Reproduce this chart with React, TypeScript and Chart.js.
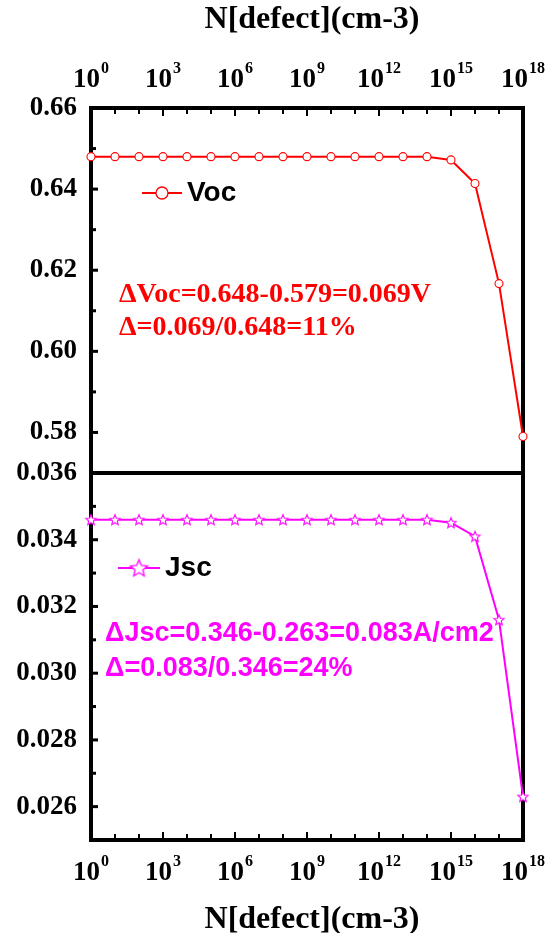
import React, { useEffect, useRef } from "react";
import { Chart, registerables } from "chart.js";

Chart.register(...registerables);

// ---------- data ----------
const defectDensity = [
  1e0, 1e1, 1e2, 1e3, 1e4, 1e5, 1e6, 1e7, 1e8, 1e9,
  1e10, 1e11, 1e12, 1e13, 1e14, 1e15, 1e16, 1e17, 1e18,
];
const vocValues = [
  0.648, 0.648, 0.648, 0.648, 0.648, 0.648, 0.648, 0.648, 0.648, 0.648,
  0.648, 0.648, 0.648, 0.648, 0.648, 0.6472, 0.6414, 0.6167, 0.579,
];
const jscValues = [
  0.0346, 0.0346, 0.0346, 0.0346, 0.0346, 0.0346, 0.0346, 0.0346, 0.0346, 0.0346,
  0.0346, 0.0346, 0.0346, 0.0346, 0.0346, 0.03451, 0.0341, 0.0316, 0.0263,
];
const xTickValues = [1e0, 1e3, 1e6, 1e9, 1e12, 1e15, 1e18];
const xTickExponents = ["0", "3", "6", "9", "12", "15", "18"];
const xMinorTickValues = [1e1, 1e2, 1e4, 1e5, 1e7, 1e8, 1e10, 1e11, 1e13, 1e14, 1e16, 1e17];
const vocTicks = [0.58, 0.6, 0.62, 0.64, 0.66];
const vocMinorTicks = [0.57, 0.59, 0.61, 0.63, 0.65];
const jscTicks = [0.026, 0.028, 0.03, 0.032, 0.034, 0.036];
const jscMinorTicks = [0.025, 0.027, 0.029, 0.031, 0.033, 0.035];
const axisTitle = "N[defect](cm-3)";
const vocLabel = "Voc";
const jscLabel = "Jsc";
const vocNotes = ["ΔVoc=0.648-0.579=0.069V", "Δ=0.069/0.648=11%"];
const jscNotes = ["ΔJsc=0.346-0.263=0.083A/cm2", "Δ=0.083/0.346=24%"];

// ---------- layout ----------
const W = 548;
const PLOT_LEFT = 91;
const PLOT_RIGHT = 523;
const SERIF = '"Liberation Serif", "Times New Roman", serif';
const SANS = '"Liberation Sans", Arial, sans-serif';
const RED = "#ff0000";
const MAGENTA = "#ff00ff";

function makeStar(r: number, color: string, lw: number) {
  const size = Math.ceil(2 * r + lw * 2 + 2);
  const c = document.createElement("canvas");
  c.width = size;
  c.height = size;
  const ctx = c.getContext("2d")!;
  ctx.translate(size / 2, size / 2 + r * 0.08);
  ctx.beginPath();
  for (let i = 0; i < 10; i++) {
    const rr = i % 2 === 0 ? r : r * 0.45;
    const a = -Math.PI / 2 + (i * Math.PI) / 5;
    ctx.lineTo(rr * Math.cos(a), rr * Math.sin(a));
  }
  ctx.closePath();
  ctx.fillStyle = "#ffffff";
  ctx.fill();
  ctx.strokeStyle = color;
  ctx.lineWidth = lw;
  ctx.stroke();
  return c;
}

type Panel = {
  id: string;
  offsetTop: number;
  height: number;
  values: number[];
  color: string;
  yMin: number;
  yMax: number;
  yTicks: number[];
  yMinor: number[];
  decimals: number;
  axisPos: "top" | "bottom";
  axisH: number;
  padTop: number;
  padBottom: number;
  marker: "circle" | "star";
  label: string;
  legend: { x1: number; x2: number; y: number; textX: number };
  notes: string[];
  notesFont: string;
  notesX: number;
  notesY: number[];
  tickBaseline: number;
  titleY: number;
};

const topPanel: Panel = {
  id: "voc",
  offsetTop: 0,
  height: 480,
  values: vocValues,
  color: RED,
  yMin: 0.57,
  yMax: 0.66,
  yTicks: vocTicks,
  yMinor: vocMinorTicks,
  decimals: 2,
  axisPos: "top",
  axisH: 108,
  padTop: 0,
  padBottom: 7,
  marker: "circle",
  label: vocLabel,
  legend: { x1: 142, x2: 182, y: 193, textX: 187 },
  notes: vocNotes,
  notesFont: `bold 28px ${SERIF}`,
  notesX: 119,
  notesY: [295, 328],
  tickBaseline: 87,
  titleY: 20,
};

const bottomPanel: Panel = {
  id: "jsc",
  offsetTop: 440,
  height: 493,
  values: jscValues,
  color: MAGENTA,
  yMin: 0.025,
  yMax: 0.036,
  yTicks: jscTicks,
  yMinor: jscMinorTicks,
  decimals: 3,
  axisPos: "bottom",
  axisH: 93,
  padTop: 33,
  padBottom: 0,
  marker: "star",
  label: jscLabel,
  legend: { x1: 118, x2: 160, y: 568, textX: 165 },
  notes: jscNotes,
  notesFont: `bold 27px ${SANS}`,
  notesX: 105,
  notesY: [634, 669],
  tickBaseline: 880,
  titleY: 920,
};

function panelPlugin(p: Panel) {
  return {
    id: "panel_" + p.id,
    beforeDatasetsDraw(chart: any) {
      const ctx = chart.ctx as CanvasRenderingContext2D;
      const a = chart.chartArea;
      const xs = chart.scales.x;
      const ys = chart.scales.y;
      ctx.save();
      ctx.strokeStyle = "#000";
      // ticks on x edge (inward)
      const edgeY = p.axisPos === "top" ? a.top : a.bottom;
      const dir = p.axisPos === "top" ? 1 : -1;
      ctx.lineWidth = 2;
      xTickValues.forEach((v) => {
        const px = xs.getPixelForValue(v);
        ctx.beginPath();
        ctx.moveTo(px, edgeY);
        ctx.lineTo(px, edgeY + dir * 8);
        ctx.stroke();
      });
      xMinorTickValues.forEach((v) => {
        const px = xs.getPixelForValue(v);
        ctx.beginPath();
        ctx.moveTo(px, edgeY);
        ctx.lineTo(px, edgeY + dir * 6);
        ctx.stroke();
      });
      // ticks on y (inward)
      ctx.lineWidth = 3;
      p.yTicks.forEach((v) => {
        const py = ys.getPixelForValue(v);
        ctx.beginPath();
        ctx.moveTo(a.left, py);
        ctx.lineTo(a.left + 7, py);
        ctx.stroke();
      });
      p.yMinor.forEach((v) => {
        const py = ys.getPixelForValue(v);
        ctx.beginPath();
        ctx.moveTo(a.left, py);
        ctx.lineTo(a.left + 5, py);
        ctx.stroke();
      });
      // frame
      ctx.lineWidth = 4;
      ctx.strokeRect(a.left, a.top, a.right - a.left, a.bottom - a.top);
      ctx.restore();
    },
    afterDraw(chart: any) {
      const ctx = chart.ctx as CanvasRenderingContext2D;
      const a = chart.chartArea;
      const xs = chart.scales.x;
      const off = p.offsetTop;
      ctx.save();
      ctx.fillStyle = "#000";
      // x tick labels with superscript exponents, whole label centred on the tick
      xTickValues.forEach((v, i) => {
        const px = xs.getPixelForValue(v);
        ctx.textAlign = "left";
        ctx.textBaseline = "alphabetic";
        ctx.font = `bold 16px ${SERIF}`;
        const ew = ctx.measureText(xTickExponents[i]).width;
        ctx.font = `bold 27px ${SERIF}`;
        const bw = ctx.measureText("10").width;
        const total = bw + 1 + ew;
        const bx = px - total / 2;
        ctx.fillText("10", bx, p.tickBaseline - off);
        ctx.font = `bold 16px ${SERIF}`;
        ctx.fillText(xTickExponents[i], bx + bw + 1, p.tickBaseline - off - 14);
      });
      // axis title
      ctx.font = `bold 32px ${SERIF}`;
      ctx.textAlign = "center";
      ctx.textBaseline = "middle";
      ctx.fillText(axisTitle, (a.left + a.right) / 2 + 5, p.titleY - off);
      // legend
      const ly = p.legend.y - off;
      ctx.strokeStyle = p.color;
      ctx.lineWidth = 2;
      ctx.beginPath();
      ctx.moveTo(p.legend.x1, ly);
      ctx.lineTo(p.legend.x2, ly);
      ctx.stroke();
      const mx = (p.legend.x1 + p.legend.x2) / 2;
      if (p.marker === "circle") {
        ctx.beginPath();
        ctx.arc(mx, ly, 6, 0, Math.PI * 2);
        ctx.fillStyle = "#fff";
        ctx.fill();
        ctx.lineWidth = 1.3;
        ctx.stroke();
      } else {
        const st = makeStar(9, p.color, 1.3);
        ctx.drawImage(st, mx - st.width / 2, ly - st.height / 2);
      }
      ctx.fillStyle = "#000";
      ctx.font = `bold 28px ${SANS}`;
      ctx.textAlign = "left";
      ctx.textBaseline = "middle";
      ctx.fillText(p.label, p.legend.textX, ly);
      // notes
      ctx.fillStyle = p.color;
      ctx.font = p.notesFont;
      p.notes.forEach((t, i) => {
        ctx.fillText(t, p.notesX, p.notesY[i] - off);
      });
      ctx.restore();
    },
  };
}

function makeConfig(p: Panel): any {
  const pointStyle = p.marker === "circle" ? "circle" : makeStar(5.5, p.color, 1.1);
  return {
    type: "line",
    data: {
      datasets: [
        {
          data: defectDensity.map((x, i) => ({ x, y: p.values[i] })),
          borderColor: p.color,
          borderWidth: 2,
          pointStyle,
          pointRadius: p.marker === "circle" ? 4 : 5,
          pointBackgroundColor: "#ffffff",
          pointBorderColor: p.color,
          pointBorderWidth: 1.1,
          tension: 0,
          clip: false,
        },
      ],
    },
    options: {
      animation: false,
      responsive: false,
      events: [],
      layout: {
        padding: { left: 0, right: W - PLOT_RIGHT, top: p.padTop, bottom: p.padBottom },
      },
      plugins: {
        legend: { display: false },
        tooltip: { enabled: false },
        title: { display: false },
      },
      scales: {
        x: {
          type: "logarithmic",
          position: p.axisPos,
          min: 1,
          max: 1e18,
          ticks: { display: false },
          grid: { display: false, drawTicks: false },
          border: { display: false },
          afterFit: (s: any) => {
            s.height = p.axisH;
            s.paddingLeft = 0;
            s.paddingRight = 0;
          },
        },
        y: {
          type: "linear",
          position: "left",
          min: p.yMin,
          max: p.yMax,
          afterBuildTicks: (s: any) => {
            s.ticks = p.yTicks.map((v) => ({ value: v }));
          },
          ticks: {
            autoSkip: false,
            padding: 14,
            color: "#000",
            font: { family: SERIF, size: 27, weight: "bold" },
            callback: (v: any) => Number(v).toFixed(p.decimals),
          },
          grid: { display: false, drawTicks: false },
          border: { display: false },
          afterFit: (s: any) => {
            s.width = PLOT_LEFT;
            s.paddingTop = 0;
            s.paddingBottom = 0;
          },
        },
      },
    },
    plugins: [panelPlugin(p)],
  };
}

export default function App() {
  const topRef = useRef<HTMLCanvasElement>(null);
  const botRef = useRef<HTMLCanvasElement>(null);

  useEffect(() => {
    const c1 = new Chart(topRef.current!, makeConfig(topPanel));
    const c2 = new Chart(botRef.current!, makeConfig(bottomPanel));
    return () => {
      c1.destroy();
      c2.destroy();
    };
  }, []);

  return (
    <div
      style={{
        position: "absolute",
        left: 0,
        top: 0,
        width: W,
        height: 933,
        background: "#ffffff",
      }}
    >
      <canvas
        ref={topRef}
        width={W}
        height={topPanel.height}
        style={{ position: "absolute", left: 0, top: topPanel.offsetTop }}
      />
      <canvas
        ref={botRef}
        width={W}
        height={bottomPanel.height}
        style={{ position: "absolute", left: 0, top: bottomPanel.offsetTop }}
      />
    </div>
  );
}
